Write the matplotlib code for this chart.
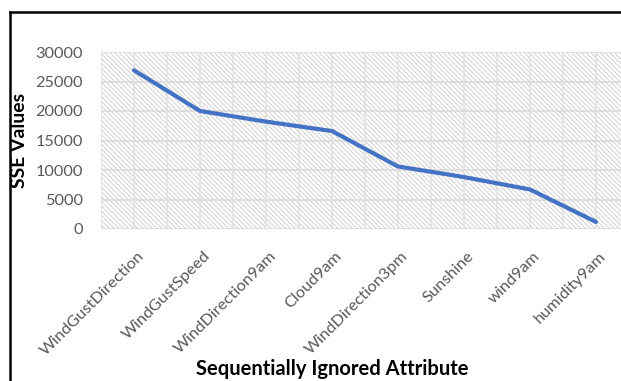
import matplotlib
matplotlib.use("Agg")
import matplotlib.pyplot as plt
import matplotlib.transforms as mtransforms
from matplotlib.lines import Line2D
from matplotlib.font_manager import FontProperties
from matplotlib.textpath import TextPath
import numpy as np

categories = ["WindGustDirection", "WindGustSpeed", "WindDirection9am", "Cloud9am",
              "WindDirection3pm", "Sunshine", "wind9am", "humidity9am"]
sse_values = [26900, 20000, 18200, 16600, 10600, 8800, 6700, 1200]
y_ticks = [0, 5000, 10000, 15000, 20000, 25000, 30000]

FAMILY = 'Lato'
plt.rcParams['font.family'] = [FAMILY, 'DejaVu Sans']
plt.rcParams['hatch.color'] = '#d0d0d0'
plt.rcParams['hatch.linewidth'] = 0.7

W, H, DPI = 621, 381, 100


def size_for_width(text, target_px, weight='normal'):
    """font size (pt) so that text is target_px wide at DPI."""
    fp = FontProperties(family=FAMILY, weight=weight, size=10)
    tp = TextPath((0, 0), text, prop=fp)
    w_pt = tp.get_extents().width
    w_px10 = w_pt * DPI / 72.0
    return 10 * target_px / w_px10


fs_ytick = size_for_width("30000", 46)
fs_xtick = size_for_width("WindGustDirection", 139)
fs_ylabel = size_for_width("SSE Values", 94, 'bold')
fs_xlabel = size_for_width("Sequentially Ignored Attribute", 270, 'bold')

fig = plt.figure(figsize=(W / DPI, H / DPI), dpi=DPI)
left, right, top, bottom = 101, 629, 52, 229
ax = fig.add_axes([left / W, 1 - bottom / H, (right - left) / W, (bottom - top) / H])

n = len(categories)
x = np.arange(n)
ax.set_xlim(-0.5, n - 0.5)
ax.set_ylim(0, 30000)

ax.patch.set_facecolor('white')
ax.patch.set_hatch('\\' * 7)
ax.patch.set_edgecolor('#d0d0d0')
ax.patch.set_linewidth(0)

for yv in y_ticks:
    ax.axhline(yv, color='#d9d9d9', lw=1.1, zorder=1)
for xv in np.arange(-0.5, n, 0.5):
    ax.axvline(xv, color='#e0e0e0', lw=1.1, zorder=1)

ax.plot(x, sse_values, color='#4472c4', lw=3.0, solid_capstyle='round',
        solid_joinstyle='round', zorder=3)

for s in ax.spines.values():
    s.set_visible(False)

ax.set_yticks(y_ticks)
ax.set_yticklabels([str(v) for v in y_ticks], fontsize=fs_ytick, color='#595959')
ax.set_xticks(x)
ax.set_xticklabels([])
ax.tick_params(axis='both', length=0)
ax.tick_params(axis='y', pad=18 * 72 / DPI)

offset = mtransforms.ScaledTranslation(3 / DPI, -20 / DPI, fig.dpi_scale_trans)
trans = ax.get_xaxis_transform() + offset
for xi, lab in zip(x, categories):
    ax.text(xi, 0, lab, transform=trans, rotation=45, rotation_mode='anchor',
            ha='right', va='top', fontsize=fs_xtick, color='#595959', clip_on=False)

fig.text(20 / W, 1 - 140 / H, "SSE Values", rotation=90, ha='center', va='center',
         fontsize=fs_ylabel, fontweight='bold', color='black')
fig.text(332 / W, 1 - 369 / H, "Sequentially Ignored Attribute", ha='center',
         va='center', fontsize=fs_xlabel, fontweight='bold', color='black')

fig.add_artist(Line2D([9.5 / W, 9.5 / W], [0, 1 - 12 / H], transform=fig.transFigure,
                      color='black', lw=1.8))
fig.add_artist(Line2D([9.5 / W, 1], [1 - 12 / H, 1 - 12 / H], transform=fig.transFigure,
                      color='black', lw=1.8))

fig.savefig("out.png", dpi=DPI)
